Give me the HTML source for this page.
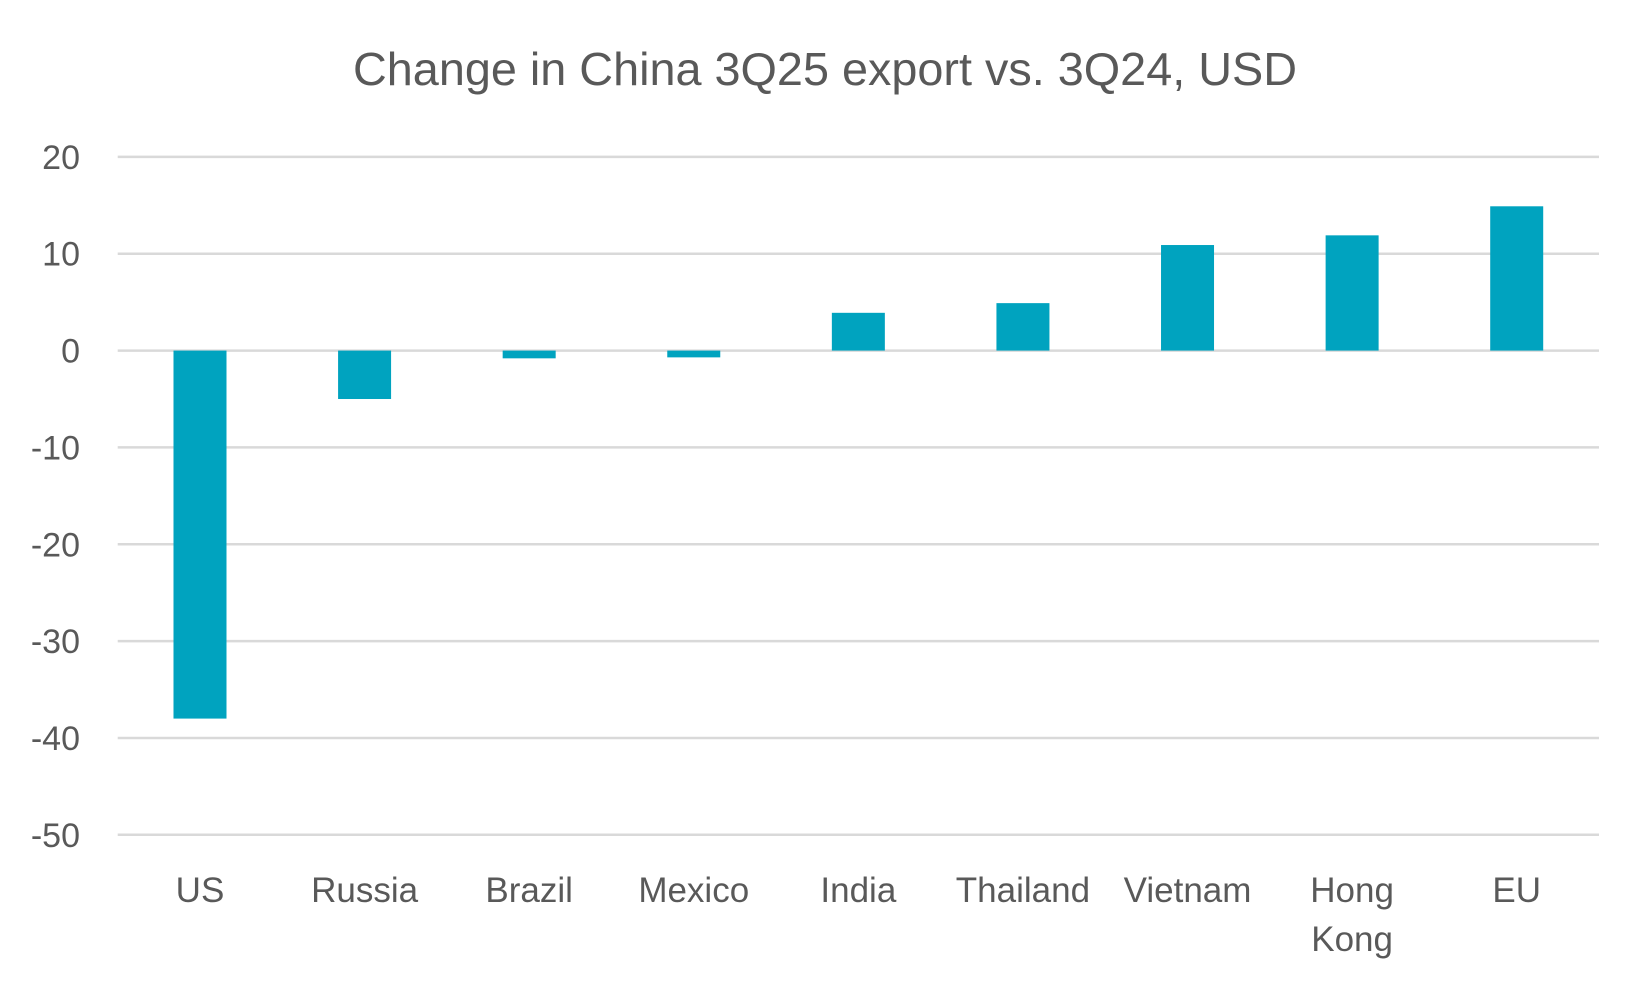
<!DOCTYPE html>
<html><head><meta charset="utf-8"><style>
html,body{margin:0;padding:0;background:#fff;}
svg{display:block;font-family:"Liberation Sans",sans-serif;}
</style></head><body>
<svg id="chart" width="1650" height="990" viewBox="0 0 1650 990" xmlns="http://www.w3.org/2000/svg">
<text x="825" y="85" text-anchor="middle" font-size="46" fill="#595959" textLength="944" lengthAdjust="spacingAndGlyphs">Change in China 3Q25 export vs. 3Q24, USD</text>
<g id="grid"></g><g id="bars"></g><g id="xlabels"></g><g id="ylabels"></g>
</svg>
<script>
const categories=["US","Russia","Brazil","Mexico","India","Thailand","Vietnam","Hong Kong","EU"];
const values=[-38,-5,-0.8,-0.7,3.9,4.9,10.9,11.9,14.9];
const yTicks=[20,10,0,-10,-20,-30,-40,-50];
const NS="http://www.w3.org/2000/svg";
const x0=117.7,x1=1599,yTop=156.9,yBot=834.8,vMax=20,vMin=-50;
const y=v=>yTop+(vMax-v)/(vMax-vMin)*(yBot-yTop);
const band=(x1-x0)/categories.length;
const xc=i=>x0+band*(i+0.5);
const bw=53;
function mk(t,a){const e=document.createElementNS(NS,t);for(const k in a)e.setAttribute(k,a[k]);return e;}
const g=document.getElementById('grid'),b=document.getElementById('bars'),xl=document.getElementById('xlabels'),yl=document.getElementById('ylabels');
yTicks.forEach(v=>{
 const l=mk('line',{x1:x0,x2:x1,y1:y(v),y2:y(v),stroke:'#d9d9d9','stroke-width':2.5});
 
 
 g.appendChild(l);
 const t=mk('text',{x:80,y:y(v)+12,'text-anchor':'end','font-size':34,fill:'#595959'});
 
 
 t.textContent=v;yl.appendChild(t);
});
categories.forEach((c,i)=>{
 const v=values[i];
 const r=mk('rect',{x:xc(i)-bw/2,y:Math.min(y(v),y(0)),width:bw,height:Math.abs(y(v)-y(0)),fill:'#00a3bf'});
 
 
 b.appendChild(r);
 const t=mk('text',{x:xc(i),y:902,'text-anchor':'middle','font-size':35,fill:'#595959'});
 
 
 const parts=c==="Hong Kong"?["Hong","Kong"]:[c];
 parts.forEach((p,k)=>{const s=mk('tspan',{x:xc(i),dy:k?49:0});s.textContent=p;t.appendChild(s);});
 xl.appendChild(t);
});
</script>
</body></html>
